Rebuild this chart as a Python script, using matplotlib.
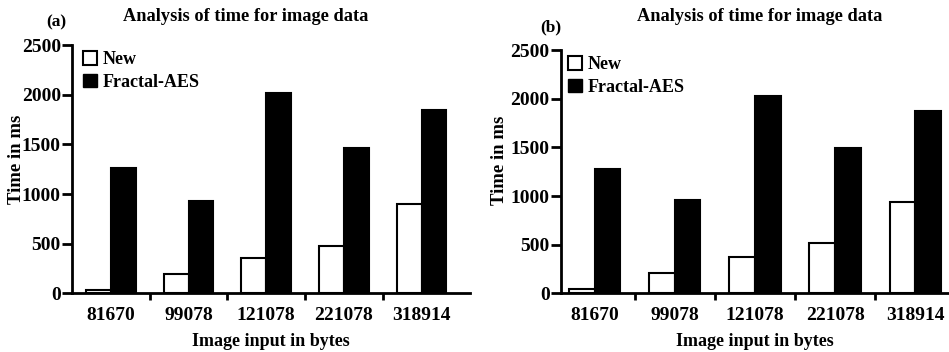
import matplotlib
matplotlib.use("Agg")
import matplotlib.pyplot as plt
import numpy as np
from matplotlib.patches import Patch

categories = ["81670", "99078", "121078", "221078", "318914"]
new_a = [30, 194, 352, 476, 899]
aes_a = [1265, 926, 2017, 1460, 1846]
new_b = [45, 212, 370, 514, 935]
aes_b = [1277, 955, 2031, 1490, 1873]
yticks = [0, 500, 1000, 1500, 2000, 2500]

plt.rcParams['font.family'] = ['Liberation Serif', 'DejaVu Serif']

fig = plt.figure(figsize=(9.49, 3.52), dpi=100)

def panel(rect, new, aes, xlim, tag, tagxy, titlexy, legend_anchor, ylab_xy):
    ax = fig.add_axes(rect)
    x = np.arange(len(categories))
    w = 0.32
    ax.bar(x - w/2, new, w, color="white", edgecolor="black", linewidth=1.5, label="New")
    ax.bar(x + w/2, aes, w, color="black", edgecolor="black", linewidth=1.5, label="Fractal-AES")
    ax.set_xlim(*xlim)
    ax.set_ylim(0, 2500)
    ax.set_yticks(yticks)
    ax.set_yticklabels([str(v) for v in yticks], fontsize=14, fontweight="bold")
    ax.set_xticks(x)
    ax.set_xticklabels(categories, fontsize=14, fontweight="bold")
    ax.tick_params(axis="x", length=0, pad=10)
    ax.set_xticks(x[:-1] + 0.5, minor=True)
    ax.tick_params(axis="x", which="minor", length=5, width=2, direction="out")
    ax.tick_params(axis="y", length=7, width=2, direction="out", pad=1)
    for s in ["top", "right"]:
        ax.spines[s].set_visible(False)
    for s in ["left", "bottom"]:
        ax.spines[s].set_linewidth(2)
    ax.set_xlabel("Image input in bytes", fontsize=13, fontweight="bold", labelpad=6)
    ax.set_ylabel("Time in ms", fontsize=13.5, fontweight="bold")
    ax.yaxis.set_label_coords(*ylab_xy)
    fig.text(titlexy[0], titlexy[1], "Analysis of time for image data", fontsize=13.2,
             fontweight="bold", ha="center", va="center")
    handles = [Patch(facecolor="white", edgecolor="black", linewidth=1.5, label="New"),
               Patch(facecolor="black", edgecolor="black", label="Fractal-AES")]
    ax.legend(handles=handles, loc="upper left", frameon=False,
              prop={"size": 13, "weight": "bold"},
              handlelength=0.8, handleheight=0.8, handletextpad=0.3,
              borderaxespad=0.2, labelspacing=0.3, bbox_to_anchor=legend_anchor)
    fig.text(tagxy[0], tagxy[1], tag, fontsize=12.5, fontweight="bold", ha="left", va="center")
    return ax

panel([0.0759, 0.1667, 0.419, 0.705], new_a, aes_a, (-0.5, 4.62), "(a)",
      (0.049, 0.937), (0.259, 0.953), (0.0, 1.02), (-0.118, 0.54))
panel([0.591, 0.1667, 0.409, 0.691], new_b, aes_b, (-0.42, 4.42), "(b)",
      (0.569, 0.923), (0.801, 0.952), (-0.01, 1.02), (-0.135, 0.548))

fig.savefig("out.png", dpi=100)
